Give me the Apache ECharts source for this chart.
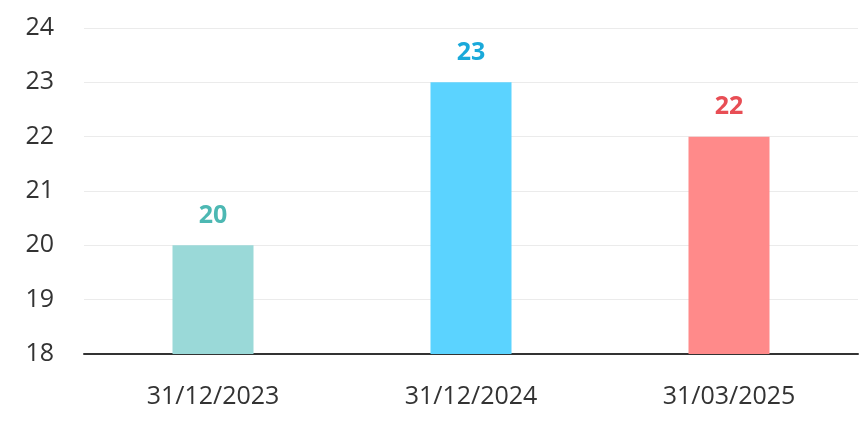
<!DOCTYPE html>
<html><head><meta charset="utf-8">
<script src="https://cdn.jsdelivr.net/npm/echarts@6/dist/echarts.min.js"></script>
<style>html,body{margin:0;padding:0;background:#fff}#c{width:864px;height:424px}</style>
</head><body><div id="c"></div>
<script>
const categories = ['31/12/2023', '31/12/2024', '31/03/2025'];
const values = [20, 23, 22];
const barColors = ['#9AD9D8', '#5BD3FF', '#FF8A8A'];
const labelColors = ['#4DB8B3', '#1AA9DA', '#E84E55'];
const yTicks = [18, 19, 20, 21, 22, 23, 24];

const chart = echarts.init(document.getElementById('c'));
chart.setOption({
  animation: false,
  textStyle: { fontFamily: 'Open Sans' },
  grid: { left: 84, right: 6, top: 28, bottom: 70, containLabel: false },
  xAxis: {
    type: 'category', data: categories,
    axisLine: { lineStyle: { color: '#333', width: 2 } },
    axisTick: { show: false },
    axisLabel: { color: '#333', fontSize: 25, margin: 30, fontFamily: 'Open Sans' }
  },
  yAxis: {
    type: 'value', min: yTicks[0], max: yTicks[yTicks.length - 1], interval: 1,
    axisLine: { show: false }, axisTick: { show: false },
    splitLine: { lineStyle: { color: '#EBEBEB', width: 1 } },
    axisLabel: { color: '#333', fontSize: 25, margin: 30, fontFamily: 'Open Sans' }
  },
  series: [{
    type: 'bar', barWidth: 81,
    data: values.map((v, i) => ({
      value: v,
      itemStyle: { color: barColors[i] },
      label: { color: labelColors[i] }
    })),
    label: { show: true, position: 'top', distance: 17, fontSize: 25, fontWeight: 'bold', fontFamily: 'Open Sans' }
  }]
});
</script></body></html>
